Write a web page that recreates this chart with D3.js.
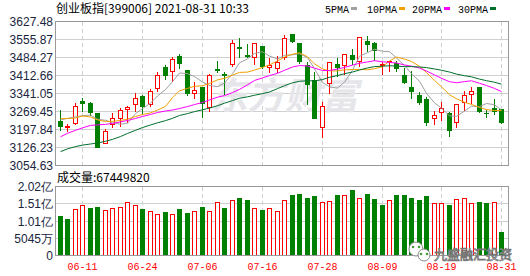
<!DOCTYPE html>
<html>
<head>
<meta charset="utf-8">
<script src="https://cdn.jsdelivr.net/npm/d3@7"></script>
<style>
body { margin: 0; background: #fff; }
svg { display: block; }
</style>
</head>
<body>
<script>
// trading days shown (06-08 .. 08-31)
var dates = ["06-08","06-09","06-10","06-11","06-15","06-16","06-17","06-18","06-21","06-22",
  "06-23","06-24","06-25","06-28","06-29","06-30","07-01","07-02","07-05","07-06",
  "07-07","07-08","07-09","07-12","07-13","07-14","07-15","07-16","07-19","07-20",
  "07-21","07-22","07-23","07-26","07-27","07-28","07-29","07-30","08-02","08-03",
  "08-04","08-05","08-06","08-09","08-10","08-11","08-12","08-13","08-16","08-17",
  "08-18","08-19","08-20","08-23","08-24","08-25","08-26","08-27","08-30","08-31"];

var open = [3230.0, 3207.0, 3220.8, 3307.5, 3299.6, 3260.2, 3142.0, 3216.9, 3240.5, 3278.6,
  3295.7, 3328.6, 3295.7, 3361.4, 3442.9, 3427.1, 3490.2, 3431.0, 3339.1, 3364.0,
  3285.2, 3435.0, 3415.3, 3456.0, 3523.0, 3492.8, 3482.3, 3529.6, 3445.5, 3440.2,
  3486.2, 3575.6, 3541.4, 3453.4, 3391.6, 3206.3, 3381.1, 3457.3, 3453.4, 3492.8,
  3466.5, 3548.0, 3538.8, 3453.4, 3463.9, 3458.6, 3414.0, 3364.0, 3332.5, 3315.4,
  3243.1, 3265.5, 3260.2, 3227.4, 3304.9, 3335.1, 3364.0, 3262.9, 3280.0, 3276.0];
var high = [3276.0, 3223.4, 3306.2, 3324.6, 3308.8, 3262.9, 3201.1, 3266.8, 3285.2, 3293.1,
  3344.3, 3337.7, 3361.4, 3427.1, 3456.0, 3490.2, 3502.0, 3433.6, 3387.7, 3364.0,
  3420.5, 3473.1, 3429.7, 3555.9, 3565.1, 3538.8, 3541.4, 3529.6, 3482.3, 3492.8,
  3574.3, 3578.2, 3545.4, 3466.5, 3427.1, 3308.8, 3469.1, 3482.3, 3502.0, 3521.7,
  3569.0, 3571.6, 3549.3, 3466.5, 3473.1, 3473.1, 3442.9, 3433.7, 3348.3, 3328.6,
  3272.0, 3308.8, 3269.4, 3299.6, 3354.8, 3368.0, 3368.0, 3278.6, 3319.4, 3280.0];
var low = [3193.2, 3188.0, 3218.2, 3269.4, 3252.3, 3127.5, 3140.6, 3207.7, 3210.3, 3227.4,
  3269.4, 3262.9, 3289.1, 3350.9, 3398.2, 3390.3, 3440.2, 3332.5, 3319.4, 3245.8,
  3269.4, 3424.5, 3337.7, 3446.8, 3486.2, 3482.3, 3456.0, 3440.2, 3424.5, 3424.5,
  3477.0, 3542.7, 3460.0, 3298.3, 3240.5, 3164.3, 3341.7, 3407.4, 3416.6, 3456.0,
  3449.4, 3508.6, 3473.1, 3416.6, 3427.1, 3427.1, 3381.1, 3322.0, 3295.7, 3214.2,
  3216.9, 3234.0, 3168.2, 3207.7, 3273.4, 3302.3, 3266.8, 3247.1, 3256.3, 3223.4];
var close = [3211.0, 3209.0, 3287.8, 3302.3, 3265.5, 3127.5, 3189.3, 3240.5, 3272.0, 3283.9,
  3319.4, 3287.8, 3350.9, 3414.0, 3411.3, 3477.0, 3460.0, 3339.1, 3354.8, 3302.3,
  3411.3, 3432.4, 3412.6, 3538.8, 3520.4, 3490.2, 3538.8, 3446.8, 3453.4, 3463.9,
  3561.1, 3549.3, 3469.1, 3377.2, 3240.5, 3287.8, 3462.6, 3444.2, 3496.7, 3477.0,
  3565.1, 3534.8, 3512.5, 3456.0, 3469.1, 3440.2, 3385.0, 3348.3, 3306.2, 3227.4,
  3252.3, 3280.0, 3195.8, 3295.7, 3331.2, 3350.9, 3269.4, 3260.2, 3269.4, 3227.4];

var volume = [115000000, 106400000, 135000000, 144800000, 138900000, 141800000, 133000000, 138900000, 141800000, 153700000,
  144800000, 135900000, 130000000, 121200000, 125100000, 121200000, 135900000, 122100000, 130000000, 141800000,
  130000000, 155600000, 138900000, 161500000, 165500000, 159600000, 137900000, 133000000, 137900000, 130000000,
  161500000, 174300000, 177300000, 165500000, 171400000, 153700000, 158600000, 174300000, 174300000, 189100000,
  167500000, 177300000, 162500000, 144800000, 161500000, 174300000, 174300000, 167500000, 159600000, 171400000,
  150700000, 150700000, 144800000, 164500000, 167500000, 150700000, 153700000, 150700000, 155600000, 67449820];

var ma5 = [3236.0, 3242.0, 3248.0, 3253.0, 3255.2, 3238.7, 3234.5, 3225.0, 3219.0, 3222.6,
  3261.0, 3280.7, 3302.8, 3331.2, 3356.7, 3388.2, 3422.6, 3420.3, 3408.4, 3386.6,
  3373.5, 3368.0, 3382.7, 3419.5, 3463.1, 3478.9, 3500.2, 3507.0, 3489.9, 3478.6,
  3492.8, 3494.9, 3499.4, 3484.1, 3439.4, 3384.8, 3367.4, 3362.5, 3386.4, 3433.7,
  3489.1, 3503.6, 3517.2, 3509.1, 3507.5, 3482.5, 3452.6, 3419.7, 3389.8, 3341.4,
  3303.8, 3282.8, 3252.3, 3250.2, 3271.0, 3290.7, 3288.6, 3301.5, 3296.2, 3275.5];
var ma10 = [3240.6, 3241.8, 3243.8, 3251.7, 3247.7, 3235.9, 3230.0, 3230.0, 3233.9, 3238.9,
  3249.9, 3257.6, 3263.9, 3275.1, 3289.7, 3324.6, 3351.7, 3361.5, 3369.8, 3371.7,
  3380.9, 3395.3, 3401.5, 3414.0, 3424.9, 3426.2, 3434.1, 3444.8, 3454.7, 3470.9,
  3485.8, 3497.5, 3503.2, 3487.0, 3459.0, 3438.8, 3431.2, 3430.9, 3435.2, 3436.6,
  3437.0, 3435.5, 3439.8, 3447.7, 3470.6, 3485.8, 3478.1, 3468.5, 3449.4, 3424.5,
  3393.2, 3367.7, 3336.0, 3320.0, 3306.2, 3297.3, 3285.7, 3276.9, 3273.2, 3273.2];
var ma20 = [3168.9, 3182.7, 3194.5, 3204.4, 3214.2, 3216.2, 3218.2, 3222.1, 3228.0, 3233.9,
  3241.8, 3249.7, 3257.6, 3265.5, 3271.4, 3275.3, 3281.2, 3289.1, 3297.0, 3305.3,
  3315.4, 3326.5, 3332.7, 3344.5, 3357.3, 3375.4, 3392.9, 3403.2, 3412.3, 3421.3,
  3433.3, 3446.4, 3452.3, 3450.5, 3442.0, 3432.5, 3432.6, 3437.9, 3445.0, 3453.7,
  3461.4, 3466.5, 3471.5, 3467.4, 3464.8, 3462.3, 3454.6, 3449.7, 3442.3, 3430.5,
  3415.1, 3401.6, 3387.9, 3383.9, 3388.4, 3391.6, 3381.9, 3372.7, 3361.3, 3348.8];
var ma30 = [3109.8, 3120.8, 3129.9, 3135.8, 3140.1, 3144.1, 3150.8, 3158.6, 3169.7, 3182.3,
  3194.5, 3205.6, 3215.8, 3224.5, 3233.2, 3242.2, 3253.6, 3261.1, 3269.0, 3276.1,
  3283.2, 3292.3, 3302.5, 3312.8, 3322.2, 3327.8, 3334.1, 3340.4, 3347.1, 3360.5,
  3372.2, 3383.5, 3389.5, 3392.0, 3391.2, 3396.5, 3405.6, 3412.4, 3419.9, 3426.4,
  3434.5, 3442.8, 3448.2, 3449.6, 3451.5, 3450.3, 3447.8, 3448.1, 3446.5, 3444.0,
  3438.7, 3433.6, 3426.4, 3418.2, 3411.9, 3407.3, 3398.3, 3392.1, 3385.9, 3378.1];

var priceTicks = [3627.48, 3555.87, 3484.27, 3412.66, 3341.05, 3269.45, 3197.84, 3126.23, 3054.63];
var volTicks = [201800000, 151350000, 100900000, 50450000, 0];
var volTickLabels = ["2.02亿", "1.51亿", "1.01亿", "5045万", "0"];
var dateTicks = ["06-11", "06-24", "07-06", "07-16", "07-28", "08-09", "08-19", "08-31"];

var maNames = ["5PMA", "10PMA", "20PMA", "30PMA"];
var maColors = ["#a0a0a0", "#f0a000", "#ff00ff", "#00702c"];
var maSeries = [ma5, ma10, ma20, ma30];

var W = 530, H = 276;
var RED = "#ff0000", GREEN = "#008000";
var labelColor = "#1a2540";

var svg = d3.select("body").append("svg")
  .attr("width", W).attr("height", H)
  .attr("font-family", "'Liberation Sans', Arial, sans-serif");

var x = d3.scaleBand().domain(d3.range(dates.length)).range([56.5, 505.5]);
function cx(i) { return Math.floor(x(i) + x.bandwidth() / 2); }
var y = d3.scaleLinear().domain([3054.63, 3627.48]).range([165.5, 21.5]);
var yv = d3.scaleLinear().domain([0, 201800000]).range([255.5, 186.5]);
function py(v) { return Math.round(y(v) - 0.5) + 0.5; }
function pv(v) { return Math.round(yv(v) - 0.5) + 0.5; }

var left = 55.5, right = 508.5;

// header
svg.append("text").attr("x", 56).attr("y", 13)
  .attr("font-family", "'Noto Sans CJK SC', sans-serif").attr("font-size", 12)
  .attr("fill", "#000").text("创业板指[399006] 2021-08-31 10:33");

var legX = [325, 367, 412, 458];
var leg = svg.append("g").attr("font-family", "'Liberation Mono', monospace").attr("font-size", 10);
maNames.forEach(function (n, k) {
  leg.append("text").attr("x", legX[k]).attr("y", 13).attr("fill", "#000").text(n);
  leg.append("rect").attr("x", legX[k] + n.length * 6 + 2).attr("y", 7).attr("width", 6).attr("height", 3)
    .attr("fill", maColors[k]);
});

// grids
var grid = svg.append("g").attr("shape-rendering", "crispEdges");
grid.selectAll("line.h").data(priceTicks.slice(1, -1)).enter().append("line")
  .attr("x1", left).attr("x2", right).attr("y1", py).attr("y2", py)
  .attr("stroke", "#cfcfcf");
grid.selectAll("line.hv").data(volTicks.slice(1, -1)).enter().append("line")
  .attr("x1", left).attr("x2", right).attr("y1", pv).attr("y2", pv)
  .attr("stroke", "#cfcfcf");
dateTicks.forEach(function (d) {
  var i = dates.indexOf(d);
  [[y.range()[1], y.range()[0]], [yv.range()[1], yv.range()[0]]].forEach(function (r) {
    grid.append("line").attr("x1", cx(i) + 0.5).attr("x2", cx(i) + 0.5)
      .attr("y1", r[0]).attr("y2", r[1])
      .attr("stroke", "#cfcfcf").attr("stroke-dasharray", "4,3");
  });
});

// watermark
svg.append("text").attr("x", 212).attr("y", 109)
  .attr("font-family", "'Noto Sans CJK SC', sans-serif").attr("font-size", 37).attr("font-weight", "bold")
  .attr("fill", "#e6e6ea").attr("transform", "skewX(-12) translate(22,0)").text("东方财富");

// price axis labels
svg.append("g").selectAll("text").data(priceTicks).enter().append("text")
  .attr("x", 53).attr("y", function (d) { return y(d) + 4.5; })
  .attr("text-anchor", "end").attr("font-size", 12).attr("fill", labelColor)
  .text(function (d) { return d.toFixed(2); });

// volume axis labels
svg.append("g").selectAll("text").data(volTicks).enter().append("text")
  .attr("x", 53).attr("y", function (d) { return yv(d) + 4.5; })
  .attr("text-anchor", "end").attr("font-size", 12).attr("fill", labelColor)
  .text(function (d, k) { return volTickLabels[k]; });

// candles
var cg = svg.append("g").attr("shape-rendering", "crispEdges");
dates.forEach(function (d, i) {
  var up = close[i] >= open[i];
  var c = up ? RED : GREEN;
  var top = py(Math.max(open[i], close[i])), bot = py(Math.min(open[i], close[i]));
  cg.append("line").attr("x1", cx(i) + 0.5).attr("x2", cx(i) + 0.5)
    .attr("y1", py(high[i])).attr("y2", py(low[i])).attr("stroke", c);
  if (up) {
    cg.append("rect").attr("x", cx(i) - 1.5).attr("y", top).attr("width", 4)
      .attr("height", Math.max(bot - top, 1)).attr("fill", "#fff").attr("stroke", c);
  } else {
    cg.append("rect").attr("x", cx(i) - 2).attr("y", top - 0.5).attr("width", 5)
      .attr("height", Math.max(bot - top + 1, 1)).attr("fill", c);
  }
});

// moving averages
var line = d3.line().x(function (v, i) { return cx(i) + 0.5; }).y(function (v) { return y(v); });
maSeries.forEach(function (s, k) {
  svg.append("path").datum(s).attr("d", line).attr("fill", "none")
    .attr("stroke", maColors[k]).attr("stroke-width", 1);
});

// volume bars
var vg = svg.append("g").attr("shape-rendering", "crispEdges");
volume.forEach(function (v, i) {
  var up = i === 0 ? close[i] >= open[i] : close[i] >= close[i - 1];
  var top = pv(v), base = yv(0);
  if (up) {
    vg.append("rect").attr("x", cx(i) - 1.5).attr("y", top).attr("width", 4)
      .attr("height", base - top - 0.5).attr("fill", "#fff").attr("stroke", RED);
  } else {
    vg.append("rect").attr("x", cx(i) - 2).attr("y", top - 0.5).attr("width", 5)
      .attr("height", base - top).attr("fill", GREEN);
  }
});

// frames
var fr = svg.append("g").attr("shape-rendering", "crispEdges").attr("fill", "none").attr("stroke", "#999");
fr.append("rect").attr("x", left).attr("y", y.range()[1]).attr("width", right - left)
  .attr("height", y.range()[0] - y.range()[1]);
fr.append("rect").attr("x", left).attr("y", yv.range()[1]).attr("width", right - left)
  .attr("height", yv.range()[0] - yv.range()[1]);

// volume title
svg.append("text").attr("x", 57).attr("y", 182)
  .attr("font-family", "'Noto Sans CJK SC', sans-serif").attr("font-size", 12).attr("fill", "#000")
  .text("成交量:" + volume[volume.length - 1]);

// date labels
svg.append("g").selectAll("text").data(dateTicks).enter().append("text")
  .attr("x", function (d) { return cx(dates.indexOf(d)) + 0.5; }).attr("y", 270)
  .attr("text-anchor", "middle").attr("font-family", "'Liberation Mono', monospace")
  .attr("font-size", 10).attr("fill", RED).text(function (d) { return d; });

// corner watermark
var wm = svg.append("g");
wm.append("circle").attr("cx", 416).attr("cy", 249).attr("r", 7).attr("fill", "#fff").attr("stroke", "#888");
wm.append("circle").attr("cx", 424).attr("cy", 255).attr("r", 6).attr("fill", "#fff").attr("stroke", "#888");
[[413, 247], [419, 247], [421, 254], [427, 254]].forEach(function (p) {
  wm.append("circle").attr("cx", p[0]).attr("cy", p[1]).attr("r", 1.3).attr("fill", "#4a9a3a");
});
wm.append("text").attr("x", 434).attr("y", 259)
  .attr("font-family", "'Noto Sans CJK SC', sans-serif").attr("font-size", 13)
  .attr("fill", "#fff").attr("stroke", "#777").attr("stroke-width", 0.8).text("九盛融汇投资");
</script>
</body>
</html>
